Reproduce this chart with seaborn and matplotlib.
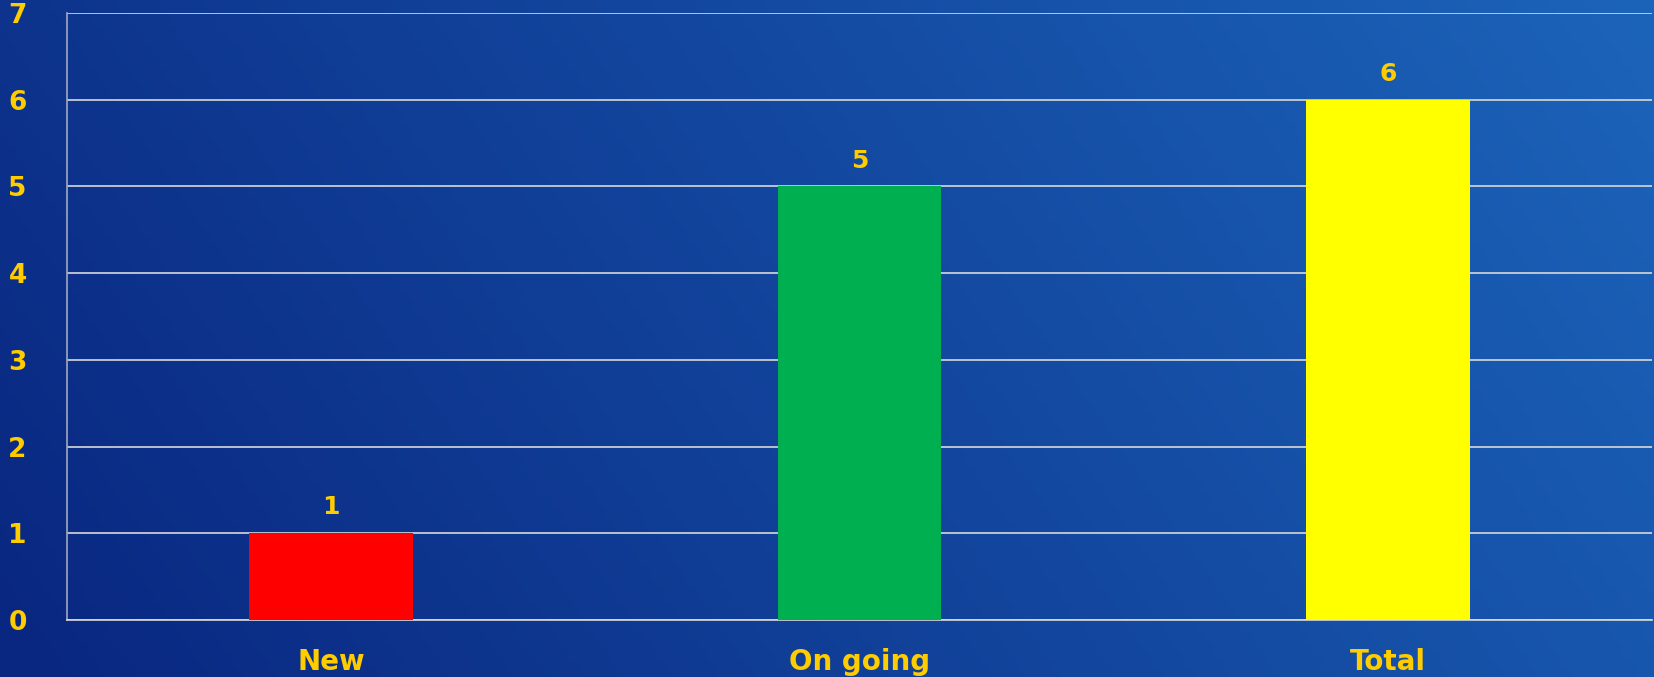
import numpy as np
import pandas as pd
import matplotlib
matplotlib.use("Agg")
import matplotlib.pyplot as plt
import seaborn as sns

categories = ["New", "On going", "Total"]
values = [1, 5, 6]
bar_colors = ["#FF0000", "#00B050", "#FFFF00"]
y_ticks = [0, 1, 2, 3, 4, 5, 6, 7]

LABEL = "#FFCC00"

sns.set_style("white")
plt.rcParams["font.family"] = ["DejaVu Sans"]

fig = plt.figure(figsize=(16.54, 6.77), dpi=100)

# gradient background: dark navy at left/bottom, lighter blue to upper right
bg = fig.add_axes([0, 0, 1, 1], zorder=0)
gx, gy = np.meshgrid(np.linspace(0, 1, 300), np.linspace(0, 1, 120))
t = np.clip(0.78 * gx + 0.22 * gy, 0, 1)
c0 = np.array([0x09, 0x26, 0x80]) / 255
c1 = np.array([0x1C, 0x64, 0xBA]) / 255
img = c0[None, None, :] * (1 - t[..., None]) + c1[None, None, :] * t[..., None]
bg.imshow(img, aspect="auto", origin="lower", extent=[0, 1, 0, 1])
bg.axis("off")

ax = fig.add_axes([0.0405, 0.0842, 0.9583, 0.8966], zorder=1)
ax.set_facecolor("none")

df = pd.DataFrame({"cat": categories, "val": values})
sns.barplot(data=df, x="cat", y="val", hue="cat", palette=bar_colors,
            width=0.31, legend=False, ax=ax, saturation=1, linewidth=0,
            zorder=3)

for i, v in enumerate(values):
    ax.annotate(str(v), (i, v), xytext=(0, 10), textcoords="offset points",
                ha="center", va="bottom", color=LABEL, fontsize=18,
                fontweight="bold")

ax.set_ylim(0, 7)
ax.set_yticks(y_ticks)
ax.yaxis.grid(True, color="#D8D8D8", linewidth=1.2, zorder=0)
ax.set_axisbelow(True)
ax.set_xlabel("")
ax.set_ylabel("")
ax.tick_params(axis="both", length=0, colors=LABEL)
ax.tick_params(axis="y", pad=29, labelsize=19)
ax.tick_params(axis="x", pad=20, labelsize=20)
for lab in ax.get_xticklabels() + ax.get_yticklabels():
    lab.set_fontweight("bold")
    lab.set_color(LABEL)

for side in ["top", "right"]:
    ax.spines[side].set_visible(False)
ax.spines["left"].set_color("#A0A8C0")
ax.spines["bottom"].set_color("#D8D8D8")
ax.spines["left"].set_linewidth(1.2)
ax.spines["bottom"].set_linewidth(1.2)

fig.savefig("out.png", dpi=100)
